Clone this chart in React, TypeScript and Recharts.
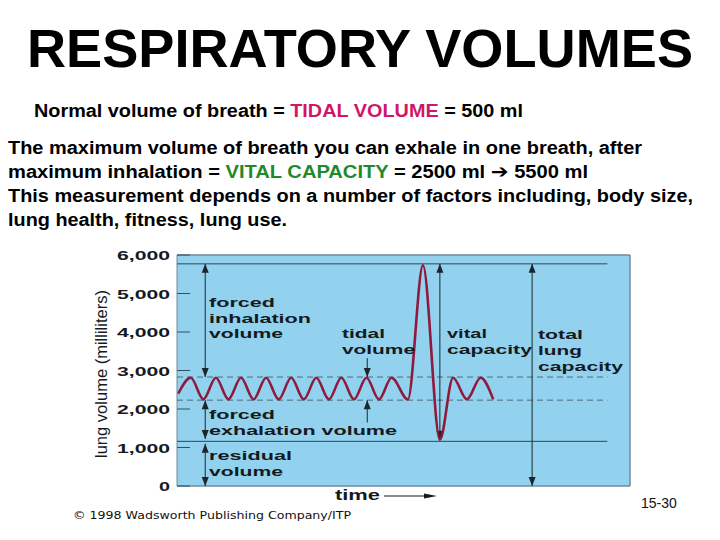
import React from "react";
import {
  LineChart,
  Line,
  XAxis,
  YAxis,
  CartesianGrid,
  ReferenceLine,
} from "recharts";

// spirogram trace: time (breath half-cycles) vs lung volume (ml)
const time = [
  0, 1, 2, 3, 4, 5, 6, 7, 8, 9, 10, 11, 12, 13, 14, 15, 16, 17, 18.3, 19.5,
  20.85, 21.9, 23, 24.1, 25.1,
];
const volume = [
  2400, 2810, 2250, 2810, 2250, 2810, 2250, 2810, 2250, 2810, 2250, 2810, 2250,
  2810, 2250, 2810, 2250, 2810, 2250, 5730, 1200, 2810, 2250, 2810, 2250,
];
const yTicks = [0, 1000, 2000, 3000, 4000, 5000, 6000];

// reference levels (ml)
const solidLevels = [5770, 1160];
const dashedLevels = [2830, 2230];
const levelEnd = 34.2;

// measurement arrows: [time, from ml, to ml, head at start, head at end]
const arrows: [number, number, number, boolean, boolean][] = [
  [2.15, 5770, 2830, true, true],
  [2.15, 2230, 1220, true, true],
  [2.15, 1100, 0, true, true],
  [15.06, 3320, 2830, false, true],
  [15.06, 1650, 2230, false, true],
  [20.85, 5770, 1200, true, true],
  [28.2, 5770, 0, true, true],
];

const data = time.map((t, i) => ({ time: t, volume: volume[i] }));

const SANS = "'Liberation Sans', Arial, Helvetica, sans-serif";
const INK = "#151a1e";

const arrowShape = (headStart: boolean, headEnd: boolean) => (p: any) => {
  const { x1, y1, x2, y2 } = p;
  const head = (tx: number, ty: number, fy: number) => {
    const d = ty > fy ? 1 : -1;
    return (
      <polygon
        points={`${tx},${ty} ${tx - 3.5},${ty - d * 9} ${tx + 3.5},${ty - d * 9}`}
        fill="#1b262c"
      />
    );
  };
  return (
    <g>
      <line x1={x1} y1={y1} x2={x2} y2={y2} stroke="#1b262c" strokeWidth={1} />
      {headStart && head(x1, y1, y2)}
      {headEnd && head(x2, y2, y1)}
    </g>
  );
};

function VolumeTick({ x, y, payload }: any) {
  const label = Number(payload.value).toLocaleString("en-US");
  return (
    <g>
      <line x1={x + 7} x2={x + 20} y1={y} y2={y} stroke="#34505e" />
      <text
        x={x}
        y={y}
        dy={5}
        textAnchor="end"
        fontSize={13}
        fontWeight="bold"
        fontFamily={SANS}
        fill={INK}
        textLength={label.length > 1 ? 53 : 11}
        lengthAdjust="spacingAndGlyphs"
      >
        {label}
      </text>
    </g>
  );
}

// labels inside the figure: text, x, baseline, width
const figureLabels: [string, number, number, number][] = [
  ["forced", 209, 307, 66],
  ["inhalation", 209, 323, 102],
  ["volume", 209, 338, 74],
  ["tidal", 342, 338, 43],
  ["volume", 342, 354, 73],
  ["vital", 447, 338, 40],
  ["capacity", 447, 354, 85],
  ["total", 538, 339, 45],
  ["lung", 538, 355, 44],
  ["capacity", 538, 371, 85],
  ["forced", 209, 419, 66],
  ["exhalation volume", 209, 435, 188],
  ["residual", 209, 460, 83],
  ["volume", 209, 476, 74],
];

export default function App() {
  return (
    <div
      style={{
        position: "absolute",
        left: 0,
        top: 0,
        width: 720,
        height: 540,
        background: "#fff",
        overflow: "hidden",
      }}
    >
      <div style={{ position: "absolute", left: 0, top: 0 }}>
        <LineChart
          width={720}
          height={540}
          data={data}
          margin={{ top: 255, right: 90, bottom: 54, left: 117 }}
        >
          <CartesianGrid fill="#93d2ef" horizontal={false} vertical={false} />
          <XAxis dataKey="time" type="number" domain={[-0.1, 36]} hide />
          <YAxis
            width={60}
            domain={[0, 6000]}
            ticks={yTicks}
            interval={0}
            axisLine={false}
            tickLine={false}
            tickSize={0}
            tickMargin={7}
            tick={(p: any) => <VolumeTick {...p} />}
          />
          <ReferenceLine y={6000} stroke="#6f8b99" strokeWidth={1.5} ifOverflow="visible" />
          <ReferenceLine y={0} stroke="#6f8b99" strokeWidth={1.5} ifOverflow="visible" />
          <ReferenceLine x={36} stroke="#6f8b99" strokeWidth={1.5} ifOverflow="visible" />
          <ReferenceLine x={-0.1} stroke="#6f8b99" strokeWidth={1} ifOverflow="visible" />
          {solidLevels.map((v) => (
            <ReferenceLine
              key={`s${v}`}
              segment={[
                { x: -0.1, y: v },
                { x: levelEnd, y: v },
              ]}
              stroke="#2c4755"
              strokeWidth={1}
              ifOverflow="visible"
            />
          ))}
          {dashedLevels.map((v) => (
            <ReferenceLine
              key={`d${v}`}
              segment={[
                { x: -0.1, y: v },
                { x: levelEnd, y: v },
              ]}
              stroke="#4d6b7a"
              strokeWidth={1}
              strokeDasharray="6 4"
              ifOverflow="visible"
            />
          ))}
          {arrows.map(([t, a, b, hs, he], i) => (
            <ReferenceLine
              key={`a${i}`}
              segment={[
                { x: t, y: a },
                { x: t, y: b },
              ]}
              ifOverflow="visible"
              shape={arrowShape(hs, he)}
            />
          ))}
          <Line
            type="monotone"
            dataKey="volume"
            stroke="#8e1b3d"
            strokeWidth={2.6}
            dot={false}
            isAnimationActive={false}
          />
        </LineChart>
      </div>

      <svg
        width={720}
        height={540}
        style={{ position: "absolute", left: 0, top: 0, pointerEvents: "none" }}
        fontFamily={SANS}
      >
        <text
          x={27}
          y={67}
          fontSize={53}
          fontWeight="bold"
          fill="#000"
          textLength={666}
          lengthAdjust="spacingAndGlyphs"
        >
          RESPIRATORY VOLUMES
        </text>

        <g fontSize={18} fontWeight="bold" fill="#000">
          <text x={34} y={117} textLength={489} lengthAdjust="spacingAndGlyphs">
            Normal volume of breath ={" "}
            <tspan fill="#d01766">TIDAL VOLUME</tspan> = 500 ml
          </text>
          <text x={8} y={154} textLength={634} lengthAdjust="spacingAndGlyphs">
            The maximum volume of breath you can exhale in one breath, after
          </text>
          <text x={8} y={178} textLength={580} lengthAdjust="spacingAndGlyphs">
            maximum inhalation = <tspan fill="#1f8a2a">VITAL CAPACITY</tspan> =
            2500 ml{" "}
            <tspan fontFamily="'DejaVu Sans', sans-serif" fontSize={19}>
              ➔
            </tspan>{" "}
            5500 ml
          </text>
          <text x={8} y={202} textLength={685} lengthAdjust="spacingAndGlyphs">
            This measurement depends on a number of factors including, body size,
          </text>
          <text x={8} y={226} textLength={279} lengthAdjust="spacingAndGlyphs">
            lung health, fitness, lung use.
          </text>
        </g>

        <g fontSize={13.5} fontWeight="bold" fill={INK}>
          {figureLabels.map(([s, x, y, w], i) => (
            <text key={i} x={x} y={y} textLength={w} lengthAdjust="spacingAndGlyphs">
              {s}
            </text>
          ))}
        </g>

        <text
          transform="translate(107,374) rotate(-90)"
          textAnchor="middle"
          fontSize={17}
          fill={INK}
          textLength={168}
          lengthAdjust="spacingAndGlyphs"
        >
          lung volume (milliliters)
        </text>

        <text
          x={335}
          y={500}
          fontSize={15}
          fontWeight="bold"
          fill={INK}
          textLength={45}
          lengthAdjust="spacingAndGlyphs"
        >
          time
        </text>
        <line x1={384} y1={496} x2={428} y2={496} stroke={INK} strokeWidth={1.2} />
        <polygon points="424,493.5 437,496 424,498.5" fill={INK} />

        <text
          x={73}
          y={519}
          fontSize={10.5}
          fontFamily="'DejaVu Sans', sans-serif"
          fill="#111"
          textLength={278}
          lengthAdjust="spacingAndGlyphs"
        >
          © 1998 Wadsworth Publishing Company/ITP
        </text>

        <text x={641} y={508} fontSize={14} fill="#111">
          15-30
        </text>
      </svg>
    </div>
  );
}
